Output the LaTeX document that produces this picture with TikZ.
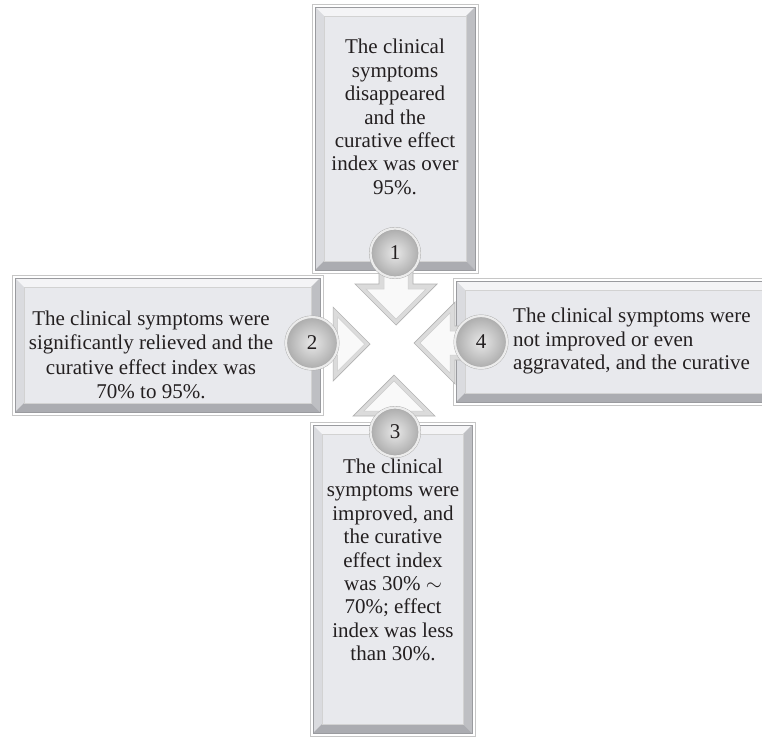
\documentclass[tikz,border=0pt]{standalone}
\usepackage{fontspec}
\setmainfont{Liberation Serif}
\usetikzlibrary{positioning,calc}

\definecolor{panelface}{HTML}{E8E9ED}
\definecolor{bevtop}{HTML}{F4F4F6}
\definecolor{bevleft}{HTML}{DADBDF}
\definecolor{bevright}{HTML}{BEBFC3}
\definecolor{bevbottom}{HTML}{ABACB1}
\definecolor{rimgray}{HTML}{9A9B9F}
\definecolor{inkgray}{HTML}{231F20}

% bevelled frame drawn over a panel node
\newcommand{\bevelframe}[1]{%
  \fill[panelface] ([shift={(3,3)}]#1.north west) rectangle ([shift={(-3,-3)}]#1.south east);
  \fill[bevtop] ([shift={(3,3)}]#1.north west) -- ([shift={(-3,3)}]#1.north east) -- ([shift={(-12,12)}]#1.north east) -- ([shift={(12,12)}]#1.north west) -- cycle;
  \fill[bevleft] ([shift={(3,3)}]#1.north west) -- ([shift={(12,12)}]#1.north west) -- ([shift={(12,-12)}]#1.south west) -- ([shift={(3,-3)}]#1.south west) -- cycle;
  \fill[bevright] ([shift={(-3,3)}]#1.north east) -- ([shift={(-12,12)}]#1.north east) -- ([shift={(-12,-12)}]#1.south east) -- ([shift={(-3,-3)}]#1.south east) -- cycle;
  \fill[bevbottom] ([shift={(3,-3)}]#1.south west) -- ([shift={(12,-12)}]#1.south west) -- ([shift={(-12,-12)}]#1.south east) -- ([shift={(-3,-3)}]#1.south east) -- cycle;
  \draw[rimgray, line width=0.7pt] ([shift={(3,3)}]#1.north west) rectangle ([shift={(-3,-3)}]#1.south east);
  \draw[gray!35, line width=0.5pt] ([shift={(12,12)}]#1.north west) rectangle ([shift={(-12,-12)}]#1.south east);
}

% block arrow, tip at the origin of the scope, pointing along +x
\newcommand{\blockarrow}[1][]{%
  \begin{scope}[#1]
    \draw[arrowrim] (0,0) -- (-41,41) -- (-41,17) -- (-72,17) -- (-72,-17) -- (-41,-17) -- (-41,-41) -- cycle;
    \draw[arrowface] (-6,0) -- (-36,30) -- (-36,12) -- (-72,12) -- (-72,-12) -- (-36,-12) -- (-36,-30) -- cycle;
  \end{scope}
}

\begin{document}
\begin{tikzpicture}[
    x=1pt, y=-1pt,
    panel/.style={rectangle, draw=gray!45, fill=white, inner sep=0pt, outer sep=0pt},
    blurb/.style={font=\fontsize{21}{23.4}\selectfont, text=inkgray, align=center, inner sep=0pt},
    arrowrim/.style={draw=gray!60, line width=0.7pt, fill=gray!28, line join=miter},
    arrowface/.style={draw=gray!40, line width=0.5pt, fill=gray!5},
    badge/.style={circle, minimum size=49pt, inner sep=0pt, draw=gray!65, double=gray!15,
        double distance=2.2pt, inner color=gray!18, outer color=gray!65,
        font=\fontsize{21}{21}\selectfont, text=inkgray}
]
\clip (0,0) rectangle (762,739);
\fill[white] (0,0) rectangle (762,739);

% panels
\node[panel, minimum width=166pt, minimum height=269pt] (box1) at (395,138.5) {};
\node[panel, minimum width=311pt, minimum height=140pt] (box2) at (167.5,345) {};
\node[panel, minimum width=165pt, minimum height=314pt] (box3) at (392.5,579) {};
\node[panel, minimum width=360pt, minimum height=127pt] (box4) at (633,341.5) {};
\bevelframe{box1}
\bevelframe{box2}
\bevelframe{box3}
\bevelframe{box4}

\node[blurb] (txt1) at (395,117) {The clinical\\symptoms\\disappeared\\and the\\curative effect\\index was over\\95\%.};
\node[blurb, font=\fontsize{21}{24.5}\selectfont] (txt2) at (151,355) {The clinical symptoms were\\significantly relieved and the\\curative effect index was\\70\% to 95\%.};
\node[blurb] (txt3) at (393,560) {The clinical\\symptoms were\\improved, and\\the curative\\effect index\\was 30\% $\sim$\\70\%; effect\\index was less\\than 30\%.};
\node[blurb, align=left, anchor=west] (txt4) at (513,341) {The clinical symptoms were\\not improved or even\\aggravated, and the curative};

% arrows towards the middle
\blockarrow[shift={(396,325)}, rotate=270]
\blockarrow[shift={(370,344)}, scale=0.9]
\blockarrow[shift={(394,375)}, rotate=90]
\blockarrow[shift={(414,343)}, rotate=180]

% numbered badges
\node[badge] (num1) at (395,253) {1};
\node[badge, minimum width=52pt] (num2) at (312,343) {2};
\node[badge] (num3) at (395,432) {3};
\node[badge, minimum width=52pt] (num4) at (481,342) {4};

\end{tikzpicture}
\end{document}
